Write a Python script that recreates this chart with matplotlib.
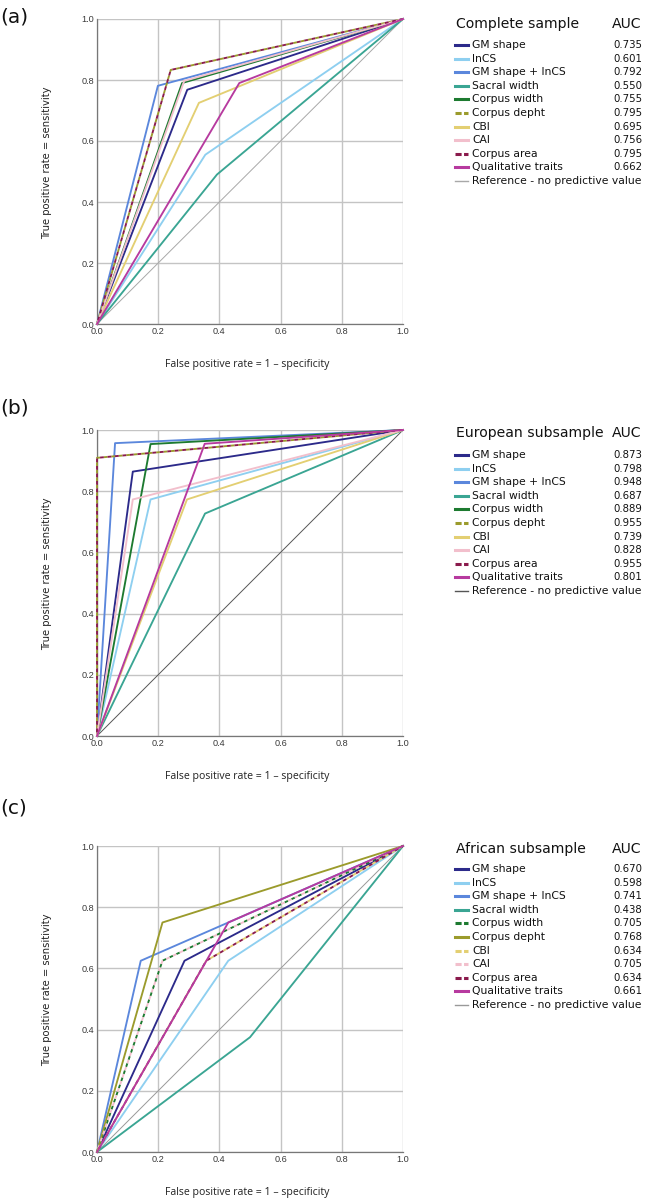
import matplotlib
matplotlib.use("Agg")
import matplotlib.pyplot as plt
from matplotlib.lines import Line2D

# ---------------- data ----------------
series = ["GM shape", "lnCS", "GM shape + lnCS", "Sacral width", "Corpus width",
          "Corpus depht", "CBI", "CAI", "Corpus area", "Qualitative traits"]
ref_label = "Reference - no predictive value"
panel_tags = ["(a)", "(b)", "(c)"]
panel_titles = ["Complete sample", "European subsample", "African subsample"]

# panel (a) ROC points
fpr_a = [[0, 0.295, 1], [0, 0.354, 1], [0, 0.199, 1], [0, 0.392, 1], [0, 0.278, 1],
         [0, 0.241, 1], [0, 0.333, 1], [0, 0.285, 1], [0, 0.241, 1], [0, 0.465, 1]]
tpr_a = [[0, 0.768, 1], [0, 0.555, 1], [0, 0.781, 1], [0, 0.490, 1], [0, 0.790, 1],
         [0, 0.833, 1], [0, 0.725, 1], [0, 0.797, 1], [0, 0.833, 1], [0, 0.790, 1]]
auc_a = ["0.735", "0.601", "0.792", "0.550", "0.755", "0.795", "0.695", "0.756", "0.795", "0.662"]

# panel (b)
fpr_b = [[0, 0.117, 1], [0, 0.175, 1], [0, 0.059, 1], [0, 0.353, 1], [0, 0.175, 1],
         [0, 0.0, 1], [0, 0.294, 1], [0, 0.117, 1], [0, 0.0, 1], [0, 0.352, 1]]
tpr_b = [[0, 0.864, 1], [0, 0.773, 1], [0, 0.957, 1], [0, 0.727, 1], [0, 0.954, 1],
         [0, 0.909, 1], [0, 0.773, 1], [0, 0.773, 1], [0, 0.909, 1], [0, 0.955, 1]]
auc_b = ["0.873", "0.798", "0.948", "0.687", "0.889", "0.955", "0.739", "0.828", "0.955", "0.801"]

# panel (c)
fpr_c = [[0, 0.286, 1], [0, 0.429, 1], [0, 0.143, 0.429, 1], [0, 0.5, 0.6, 1], [0, 0.214, 1],
         [0, 0.214, 1], [0, 0.357, 1], [0, 0.214, 1], [0, 0.357, 1], [0, 0.429, 1]]
tpr_c = [[0, 0.625, 1], [0, 0.625, 1], [0, 0.625, 0.75, 1], [0, 0.375, 0.5, 1], [0, 0.625, 1],
         [0, 0.75, 1], [0, 0.625, 1], [0, 0.625, 1], [0, 0.625, 1], [0, 0.75, 1]]
auc_c = ["0.670", "0.598", "0.741", "0.438", "0.705", "0.768", "0.634", "0.705", "0.634", "0.661"]

ticks = [0.0, 0.2, 0.4, 0.6, 0.8, 1.0]
tick_labels = ["0.0", "0.2", "0.4", "0.6", "0.8", "1.0"]

# ---------------- styles ----------------
colors = ["#2c2a8a", "#8ecff0", "#5b87dc", "#3aa593", "#1d7a30",
          "#9b9b2c", "#e3cf72", "#f2bfcc", "#8a1a4c", "#b73a9f"]
dashed_sets = [{5, 8}, {5, 8}, {4, 6, 7, 8}]
# overlapping dashed pairs get offset dashes so both colours show
dash_offset = [{8}, {8}, {7, 8}]
ref_colors = ["#a8a8a8", "#555555", "#999999"]

W, H = 645, 1199
fig = plt.figure(figsize=(W / 100, H / 100), dpi=100)

def fx(px):
    return px / W

def fy(py):
    return 1 - py / H

ax_left, ax_right = 97, 403
ax_tops = [19, 430, 846]
ax_bots = [324, 736, 1152]
title_y = [24, 433, 849]
row0_y = [45, 455, 869]
row_step = 13.6
tag_y = [17, 408, 808]

fprs = [fpr_a, fpr_b, fpr_c]
tprs = [tpr_a, tpr_b, tpr_c]
aucs = [auc_a, auc_b, auc_c]

for p in range(3):
    top, bot = ax_tops[p], ax_bots[p]
    ax = fig.add_axes([fx(ax_left), fy(bot), fx(ax_right - ax_left), (bot - top) / H])
    ax.set_xlim(0, 1)
    ax.set_ylim(0, 1)
    ax.set_xticks(ticks)
    ax.set_yticks(ticks)
    ax.set_xticklabels(tick_labels)
    ax.set_yticklabels(tick_labels)
    ax.tick_params(length=0, labelsize=6.6, colors="#3a3a3a", pad=2)
    for lab in ax.get_xticklabels() + ax.get_yticklabels():
        lab.set_family("Liberation Sans")
    ax.grid(True, color="#c4c4c4", linewidth=1.0)
    ax.set_axisbelow(True)
    for s in ["top", "right"]:
        ax.spines[s].set_visible(False)
    for s in ["left", "bottom"]:
        ax.spines[s].set_color("#777777")
        ax.spines[s].set_linewidth(0.9)

    # reference diagonal
    ax.plot([0, 1], [0, 1], color=ref_colors[p], linewidth=0.7, zorder=2)

    for i, name in enumerate(series):
        kw = dict(color=colors[i], linewidth=1.35, zorder=3 + i * 0.01, clip_on=False)
        if i in dashed_sets[p]:
            if i in dash_offset[p]:
                kw["linestyle"] = (2, (2, 2))
            else:
                kw["linestyle"] = (0, (2, 2))
        ax.plot(fprs[p][i], tprs[p][i], **kw)

    # axis labels
    fig.text(fx((ax_left + ax_right) / 2 - 3), fy(bot + 41), "False positive rate = 1 \u2013 specificity",
             ha="center", va="center", fontsize=7.6, family="Open Sans", color="#222222")
    fig.text(fx(47), fy((top + bot) / 2 - 9), "True positive rate = sensitivity",
             ha="center", va="center", rotation=90, fontsize=7.2, family="DejaVu Sans", color="#222222")
    fig.text(fx(0), fy(tag_y[p]), panel_tags[p], ha="left", va="center", fontsize=14.5,
             family="DejaVu Sans", color="#111111")

    # legend (manual)
    fig.text(fx(456), fy(title_y[p]), panel_titles[p], ha="left", va="center", fontsize=10.1,
             family="DejaVu Sans", color="#111111")
    fig.text(fx(612), fy(title_y[p]), "AUC", ha="left", va="center", fontsize=10.1,
             family="DejaVu Sans", color="#111111")
    for i, name in enumerate(series):
        yy = row0_y[p] + i * row_step
        lkw = dict(color=colors[i], linewidth=2.2)
        if i in dashed_sets[p]:
            lkw["linestyle"] = (0, (2.0, 0.8))
        fig.add_artist(Line2D([fx(455), fx(468)], [fy(yy), fy(yy)], transform=fig.transFigure, **lkw))
        fig.text(fx(472), fy(yy), name, ha="left", va="center", fontsize=7.75,
                 family="DejaVu Sans", color="#111111")
        fig.text(fx(613), fy(yy), aucs[p][i], ha="left", va="center", fontsize=7.3,
                 family="DejaVu Sans", color="#111111")
    yy = row0_y[p] + len(series) * row_step
    fig.add_artist(Line2D([fx(455), fx(468)], [fy(yy), fy(yy)], transform=fig.transFigure,
                          color=ref_colors[p], linewidth=1.0))
    fig.text(fx(472), fy(yy), ref_label, ha="left", va="center", fontsize=7.75,
             family="DejaVu Sans", color="#111111")

fig.savefig("out.png", dpi=100, facecolor="white")
